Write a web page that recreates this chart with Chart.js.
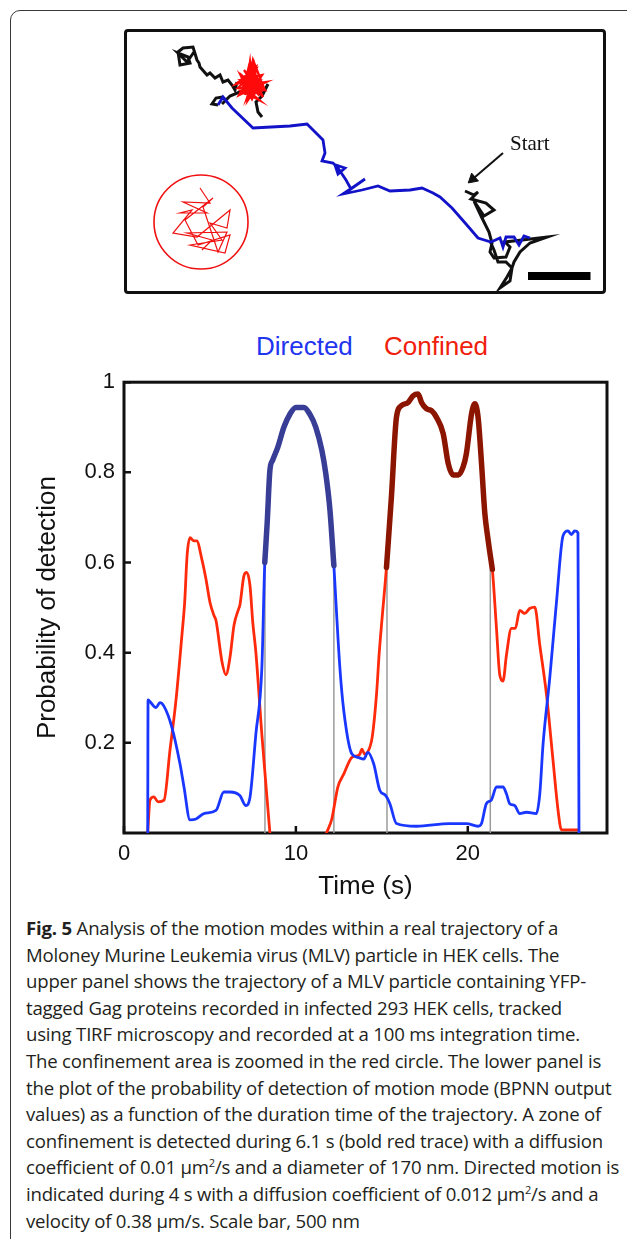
<!DOCTYPE html>
<html>
<head>
<meta charset="utf-8">
<script src="https://cdn.jsdelivr.net/npm/chart.js@4.4.0/dist/chart.umd.min.js"></script>
<style>
  html, body { margin: 0; padding: 0; background: #fff; }
  body { width: 627px; height: 1239px; position: relative; overflow: hidden; font-family: "Liberation Sans", Arial, sans-serif; }
  .frame { position: absolute; left: 10px; top: 10px; width: 700px; height: 1245px; border: 1.5px solid #3a3a3a; border-radius: 10px; }
  #trackWrap { position: absolute; left: 124px; top: 29px; width: 482px; height: 265px; }
  #trackBorder { position: absolute; left: 124px; top: 29px; width: 482px; height: 265px; box-sizing: border-box; border: 3px solid #111; border-radius: 4px; }
  .start { position: absolute; left: 510px; top: 133px; font: 21px/21px "Liberation Serif", "Times New Roman", serif; color: #111; }
  .modes { position: absolute; top: 333px; font-size: 26px; line-height: 26px; }
  #probWrap { position: absolute; left: 0; top: 360px; width: 627px; height: 550px; }
  .caption { position: absolute; left: 26px; top: 915px; font-family: "Open Sans", sans-serif; font-size: 18.6px; line-height: 26.6px; color: #231f20; letter-spacing: -0.2px; }
  .caption div { white-space: nowrap; }
  .caption b { font-weight: 700; }
  .caption sup { font-size: 11px; line-height: 0; vertical-align: 7px; }
</style>
</head>
<body>
<div class="frame"></div>

<div id="trackWrap"><canvas id="track" width="482" height="265"></canvas></div>
<div id="trackBorder"></div>
<div class="start">Start</div>

<div class="modes" style="left:256px;color:#1f35f0;">Directed</div>
<div class="modes" style="left:384px;color:#f0200c;">Confined</div>

<div id="probWrap"><canvas id="prob" width="627" height="550"></canvas></div>

<div class="caption">
  <div><b>Fig. 5</b> Analysis of the motion modes within a real trajectory of a</div>
  <div>Moloney Murine Leukemia virus (MLV) particle in HEK cells. The</div>
  <div>upper panel shows the trajectory of a MLV particle containing YFP-</div>
  <div>tagged Gag proteins recorded in infected 293 HEK cells, tracked</div>
  <div>using TIRF microscopy and recorded at a 100 ms integration time.</div>
  <div>The confinement area is zoomed in the red circle. The lower panel is</div>
  <div>the plot of the probability of detection of motion mode (BPNN output</div>
  <div>values) as a function of the duration time of the trajectory. A zone of</div>
  <div>confinement is detected during 6.1 s (bold red trace) with a diffusion</div>
  <div>coefficient of 0.01 μm<sup>2</sup>/s and a diameter of 170 nm. Directed motion is</div>
  <div>indicated during 4 s with a diffusion coefficient of 0.012 μm<sup>2</sup>/s and a</div>
  <div>velocity of 0.38 μm/s. Scale bar, 500 nm</div>
</div>

<script>
Chart.defaults.font.family = '"Liberation Sans", Arial, sans-serif';
Chart.defaults.color = '#111';

// ---- trajectory (nm), upper panel ----
const fieldX = [0, 3856];
const fieldY = [0, 2120];

// black: start of the track (bottom right)
const startPath = [[2728,824],[2800,792],[2832,816],[2776,760],[2896,728],[2960,672],[2880,624],[2800,744],
  [2864,608],[2920,496],[2944,408],[2928,336],[2960,288],[3056,296],[3088,376],[3048,416],[3184,432],[3384,456],
  [3248,408],[3168,336],[3120,256],[3104,208],[3064,136],[3008,48],[3088,104],[3104,208],[3056,256],[2992,256],
  [2960,352],[2928,424]];

// blue: directed stretch
const directedPath = [[3248,448],[3200,464],[3160,392],[3120,456],[3056,456],[3032,376],[3008,448],[2936,416],
  [2832,448],[2736,560],[2624,688],[2528,776],[2472,808],[2384,848],[2288,832],[2128,824],[2032,864],[1904,832],
  [1752,800],[1824,848],[1928,920],[1816,840],[1776,912],[1728,984],[1696,1032],[1768,1008],[1712,960],[1688,1032],
  [1672,1048],[1584,1064],[1608,1128],[1592,1232],[1464,1360],[1328,1344],[1032,1328],[864,1488],[792,1576],[752,1512]];

// black: between directed part and confinement zone
const middlePath = [[752,1512],[704,1520],[736,1568],[784,1576],[816,1552],[784,1520],[848,1584],[928,1616],
  [992,1648],[1104,1592],[1152,1680],[1104,1584],[1056,1536],[1072,1456],[1104,1416]];

// black: end of the track (top left)
const endPath = [[904,1696],[888,1632],[864,1672],[832,1712],[792,1696],[768,1752],[728,1728],[688,1768],
  [664,1752],[608,1816],[600,1848],[584,1872],[552,1976],[472,1968],[432,1936],[448,1832],[528,1848],[512,1896],
  [432,1928],[504,1856],[560,1936]];

// red: confinement zone
const confinedPath = [[968,1592],[1008,1856],[1032,1632],[928,1712],[1104,1752],[984,1568],[1056,1792],[912,1648],
  [1128,1632],[1000,1824],[952,1616],[1088,1696],[1024,1560],[936,1744],[1072,1600],[1040,1840],[976,1672],
  [1136,1696],[920,1592],[1016,1776],[1112,1576],[960,1792],[1064,1656],[992,1552],[1056,1816],[896,1680],
  [1048,1728],[1008,1584],[944,1688],[1120,1648],[1032,1872],[984,1632],[1080,1552],[928,1632],[1056,1760],
  [1000,1680],[1104,1616],[968,1728],[1024,1648],[1048,1832]];

// red: zoomed confinement inset
const insetCenter = [616, 576];
const insetPath = [[608,848],[688,728],[472,736],[664,648],[448,648],[544,672],[392,488],[584,456],[848,672],
  [824,528],[688,568],[784,432],[528,392],[808,328],[848,472],[592,392],[488,592],[712,768],[632,696],[752,336],
  [824,496],[504,488],[704,432],[624,352]];

const scaleBar = [[3232,144],[3732,144]];
const startArrow = [[3032,1128],[2790,920]];

const pts = arr => arr.map(p => ({x: p[0], y: p[1]}));
const trackLine = (arr, color, width, order) => ({
  data: pts(arr), showLine: true, borderColor: color, borderWidth: width,
  pointRadius: 0, borderJoinStyle: 'miter', tension: 0, order: order
});

new Chart(document.getElementById('track'), {
  type: 'scatter',
  data: {
    datasets: [
      trackLine(startPath, '#111', 3, 6),
      trackLine(middlePath, '#111', 3, 6),
      trackLine(endPath, '#111', 3, 6),
      trackLine(directedPath, '#1212c8', 2.8, 4),
      trackLine(confinedPath, '#ff0a0a', 2.4, 2),
      trackLine(insetPath, '#f01010', 1.2, 2),
      { data: pts([insetCenter]), pointRadius: 47, pointBorderWidth: 1.6, pointBorderColor: '#f01010',
        pointBackgroundColor: 'rgba(0,0,0,0)', order: 2 },
      Object.assign(trackLine(scaleBar, '#000', 8, 1), { borderCapStyle: 'butt' }),
      trackLine(startArrow, '#111', 2, 1),
      { data: pts([startArrow[1]]), pointStyle: 'triangle', rotation: 229, pointRadius: 6,
        pointBackgroundColor: '#111', pointBorderColor: '#111', order: 1 }
    ]
  },
  options: {
    responsive: false, animation: false,
    layout: { padding: 0, autoPadding: false },
    plugins: { legend: { display: false }, tooltip: { enabled: false } },
    scales: {
      x: { type: 'linear', display: false, min: fieldX[0], max: fieldX[1] },
      y: { type: 'linear', display: false, min: fieldY[0], max: fieldY[1] }
    }
  }
});

// ---- probability of detection, lower panel ----
const xTicks = [0, 10, 20];
const yTicks = [0.2, 0.4, 0.6, 0.8, 1];

const dirT = [1.38, 1.40, 1.50, 1.86, 2.09, 2.33, 2.79, 3.26, 3.49, 3.84, 4.19, 4.65, 5.35, 5.81, 6.16, 6.74,
  7.09, 7.33, 7.67, 8.02, 8.19, 8.33, 8.49, 8.65, 8.95, 9.30, 9.65, 10.0, 10.47, 10.81, 11.16, 11.51, 11.74,
  11.98, 12.21, 12.33, 12.56, 12.79, 13.26, 13.6, 13.95, 14.19, 14.53, 14.88, 15.23, 15.47, 15.85, 17.01,
  18.95, 19.92, 20.6, 20.8, 21.08, 21.37, 21.67, 22.05, 22.25, 22.44, 22.73, 23.02, 23.41, 23.99, 24.19,
  24.38, 24.77, 25.16, 25.54, 25.83, 26.03, 26.22, 26.41, 26.47];
const dirV = [0, 0.295, 0.292, 0.278, 0.289, 0.281, 0.234, 0.153, 0.102, 0.029, 0.031, 0.043, 0.050, 0.091,
  0.091, 0.083, 0.061, 0.079, 0.219, 0.366, 0.600, 0.688, 0.805, 0.827, 0.856, 0.900, 0.929, 0.944, 0.944,
  0.929, 0.900, 0.849, 0.797, 0.717, 0.593, 0.512, 0.366, 0.270, 0.175, 0.168, 0.164, 0.179, 0.153, 0.095,
  0.083, 0.065, 0.021, 0.015, 0.021, 0.021, 0.015, 0.021, 0.065, 0.073, 0.102, 0.102, 0.087, 0.065, 0.061,
  0.043, 0.046, 0.043, 0.087, 0.197, 0.344, 0.512, 0.659, 0.670, 0.662, 0.670, 0.666, 0];

// null = no trace drawn (hidden under the axis)
const confT = [1.38, 1.51, 1.74, 1.98, 2.33, 2.67, 3.02, 3.37, 3.53, 3.67, 3.84, 4.07, 4.23, 4.53, 4.77, 5.0,
  5.23, 5.35, 5.70, 5.93, 6.16, 6.40, 6.67, 6.74, 6.98, 7.14, 7.33, 7.49, 7.67, 8.02, 8.33, 8.49, 10.0, 11.78,
  12.09, 12.44, 12.79, 13.26, 13.55, 13.72, 13.84, 14.0, 14.3, 14.45, 14.69, 14.85, 15.0, 15.27, 15.56,
  15.85, 16.14, 16.53, 16.82, 17.11, 17.31, 17.6, 17.89, 18.18, 18.57, 18.86, 19.15, 19.44, 19.73, 19.92,
  20.22, 20.41, 20.6, 20.8, 20.99, 21.18, 21.43, 21.67, 21.86, 22.05, 22.25, 22.54, 22.77, 23.02, 23.31,
  23.6, 23.9, 24.19, 24.58, 24.96, 25.25, 25.45, 26.41];
const confV = [0, 0.073, 0.080, 0.069, 0.073, 0.182, 0.293, 0.439, 0.512, 0.615, 0.655, 0.648, 0.648, 0.607,
  0.563, 0.512, 0.483, 0.472, 0.380, 0.351, 0.388, 0.461, 0.497, 0.505, 0.571, 0.578, 0.549, 0.468, 0.402,
  0.219, 0.073, 0, null, 0, 0.031, 0.102, 0.131, 0.168, 0.171, 0.175, 0.186, 0.175, 0.190, 0.215, 0.307, 0.400,
  0.470, 0.589, 0.747, 0.922, 0.948, 0.955, 0.970, 0.974, 0.955, 0.941, 0.937, 0.922, 0.886, 0.820, 0.794,
  0.794, 0.812, 0.842, 0.930, 0.952, 0.922, 0.820, 0.710, 0.651, 0.585, 0.454, 0.351, 0.337, 0.395, 0.454,
  0.454, 0.494, 0.487, 0.498, 0.501, 0.417, 0.307, 0.161, 0.051, 0.007, 0.007];

// detected zones (bold traces) and the switch lines
const directedZone = [8.19, 12.21];
const confinedZone = [15.27, 21.43];
const switchTimes = [8.2, 12.21, 15.3, 21.31];
const switchTops = [0.60, 0.59, 0.59, 0.585];

const series = (ts, vs) => ts.map((t, i) => ({x: t, y: vs[i]}));
const zone = (ts, vs, z) => series(ts, vs).filter(p => p.x >= z[0] && p.x <= z[1]);

const probLine = (data, color, width, order) => ({
  data: data, borderColor: color, borderWidth: width, pointRadius: 0, spanGaps: false,
  cubicInterpolationMode: 'monotone', borderCapStyle: 'round', borderJoinStyle: 'round', order: order
});

const switchSets = switchTimes.map((t, i) => ({
  data: [{x: t, y: 0}, {x: t, y: switchTops[i]}], borderColor: '#9c9c9c', borderWidth: 1.5,
  pointRadius: 0, order: 5
}));

const plotFrame = {
  id: 'plotFrame',
  beforeDatasetsDraw(chart) {
    const {ctx, chartArea: a, scales} = chart;
    ctx.save();
    ctx.strokeStyle = '#111';
    ctx.lineWidth = 3;
    ctx.strokeRect(a.left, a.top, a.right - a.left, a.bottom - a.top);
    ctx.lineWidth = 2.5;
    ctx.beginPath();
    xTicks.forEach(v => {
      const px = scales.x.getPixelForValue(v);
      ctx.moveTo(px, a.bottom); ctx.lineTo(px, a.bottom - 7);
    });
    yTicks.forEach(v => {
      const py = scales.y.getPixelForValue(v);
      ctx.moveTo(a.left, py); ctx.lineTo(a.left + 7, py);
    });
    ctx.stroke();
    ctx.restore();
  }
};

new Chart(document.getElementById('prob'), {
  type: 'line',
  data: {
    datasets: [
      probLine(zone(dirT, dirV, directedZone), '#383d96', 5.5, 1),
      probLine(zone(confT, confV, confinedZone), '#8c1500', 5.5, 1),
      probLine(series(dirT, dirV), '#1a37ff', 2.8, 3),
      probLine(series(confT, confV), '#ff2a0c', 2.8, 3),
      ...switchSets
    ]
  },
  options: {
    responsive: false, animation: false,
    layout: { padding: { top: 18, right: 20, left: 0, bottom: 0 }, autoPadding: false },
    plugins: { legend: { display: false }, tooltip: { enabled: false } },
    scales: {
      x: {
        type: 'linear', min: 0, max: 28.1,
        afterBuildTicks: s => { s.ticks = xTicks.map(v => ({value: v})); },
        afterFit: s => { s.height = 77; },
        grid: { display: false, drawTicks: false },
        border: { display: false },
        ticks: { padding: 8, font: { size: 22 }, color: '#111', callback: v => String(v) },
        title: { display: true, text: 'Time (s)', font: { size: 26 }, color: '#111', padding: { top: 0, bottom: 8 } }
      },
      y: {
        type: 'linear', min: 0, max: 1,
        afterBuildTicks: s => { s.ticks = yTicks.map(v => ({value: v})); },
        afterFit: s => { s.width = 124; },
        grid: { display: false, drawTicks: false },
        border: { display: false },
        ticks: { padding: 9, font: { size: 22 }, color: '#111', callback: v => String(v) },
        title: { display: true, text: 'Probability of detection', font: { size: 26 }, color: '#111', padding: { top: 32, bottom: 0 } }
      }
    }
  },
  plugins: [plotFrame]
});
</script>
</body>
</html>
